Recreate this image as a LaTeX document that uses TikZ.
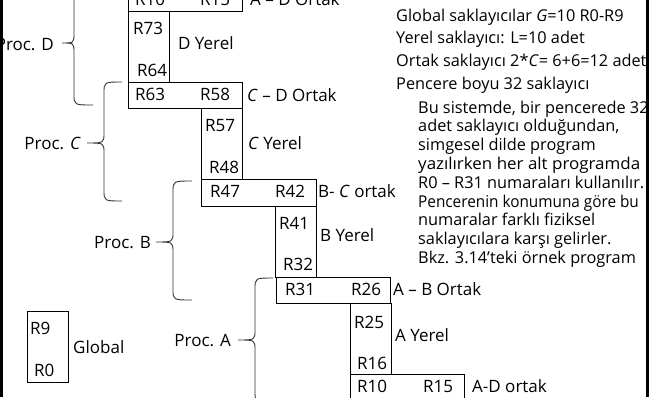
\documentclass[tikz,border=0pt]{standalone}
\usepackage{fontspec}
\usepackage{graphicx}
\setmainfont{Open Sans}
\newcommand\bracepath[6]{\draw[brace] (#1,#4) .. controls (#2,#4) .. (#2,#4+11) -- (#2,#5-10) .. controls (#2,#5) .. (#3,#5) .. controls (#2,#5) .. (#2,#5+10) -- (#2,#6-11) .. controls (#2,#6) .. (#1,#6);}
\begin{document}
\begin{tikzpicture}[x=1pt,y=-1pt, font=\fontsize{17}{19}\selectfont,
 box/.style={draw=black, line width=0.8pt},
 brace/.style={draw=black!80, line width=0.9pt},
 lbl/.style={inner sep=0pt, anchor=base west},
 ctr/.style={inner sep=0pt, anchor=base},
 lft/.style={inner sep=0pt, anchor=base east},
 note/.style={lbl, font=\fontsize{16.3}{19}\selectfont}]
\useasboundingbox (0,0) rectangle (650,397);
\clip (0,0) rectangle (650,397);
% boxes
\draw[box] (128,-14) rectangle (242,11.5);
\draw[box] (128,11.5) rectangle (169,82);
\draw[box] (128,82) rectangle (242,108);
\draw[box] (201,108) rectangle (242,179);
\draw[box] (201,179) rectangle (316,206);
\draw[box] (275,206) rectangle (316,277);
\draw[box] (276,277) rectangle (390,303);
\draw[box] (350,303) rectangle (391,374);
\draw[box] (350,374) rectangle (464,405);
\draw[box] (27,311) rectangle (68,382);
% register labels
\node[ctr] (r10a) at (150,5) {R10};
\node[ctr] (r15a) at (215,5) {R15};
\node[lbl] (adoa) at (250,5) {A – D Ortak};
\node[lbl] (r73) at (133,34) {R73};
\node[lbl] (r64) at (137,76) {R64};
\node[lbl] (dy) at (178,49) {D Yerel};
\node[ctr] (r63) at (150,100) {R63};
\node[ctr] (r58) at (215,100) {R58};
\node[lbl] (cdo) at (247,101) {\textit{C} – D Ortak};
\node[lbl] (r57) at (205,131) {R57};
\node[lbl] (r48) at (209,173) {R48};
\node[lbl] (cy) at (248,149) {\textit{C} Yerel};
\node[ctr] (r47) at (225,197) {R47};
\node[ctr] (r42) at (290,197) {R42};
\node[lbl] (bco) at (318,197) {B- \textit{C} ortak};
\node[lbl] (r41) at (279,229) {R41};
\node[lbl] (r32) at (283,270) {R32};
\node[lbl] (by) at (320,241) {B Yerel};
\node[ctr] (r31) at (300,295) {R31};
\node[ctr] (r26) at (366,295) {R26};
\node[lbl] (abo) at (393,295) {A – B Ortak};
\node[lbl] (r25) at (354,328) {R25};
\node[lbl] (r16) at (357,369) {R16};
\node[lbl] (ay) at (395,341) {A Yerel};
\node[ctr] (r10b) at (372,392) {R10};
\node[ctr] (r15b) at (438,392) {R15};
\node[lbl] (ado) at (472,392) {A-D ortak};
\node[lbl] (r9) at (30,334) {R9};
\node[lbl] (r0) at (34,376) {R0};
\node[lbl] (gl) at (73,353) {Global};
% procedures
\node[lft] (pd) at (54,50) {Proc. D};
\node[lft] (pc) at (81,149) {Proc. \textit{C}};
\node[lft] (pb) at (151,248) {Proc. B};
\node[lft] (pa) at (231,346) {Proc. A};
\bracepath{93}{74}{62}{-19}{43}{105}
\bracepath{122}{104}{87}{82}{143}{201}
\bracepath{192}{173}{156}{181}{242}{300}
\bracepath{273}{255}{238}{278}{340}{402}
% right text
\node[note] (t1) at (396,21) {Global saklayıcılar \textit{G}=10 R0-R9};
\node[note] (t2) at (396,43) {Yerel saklayıcı: L=10 adet};
\node[note] (t3) at (396,66) {Ortak saklayıcı 2*\textit{C}= 6+6=12 adet};
\node[note] (t4) at (396,89) {Pencere boyu 32 saklayıcı};
\node[note] (p0) at (418,113) {Bu sistemde, bir pencerede 32};
\node[note] (p1) at (418,131.8) {adet saklayıcı olduğundan,};
\node[note] (p2) at (418,150.6) {simgesel dilde program};
\node[note] (p3) at (418,169.4) {\scalebox{1.04}[1]{yazılırken her alt programda}};
\node[note] (p4) at (418,188.2) {R0 – R31 numaraları kullanılır.};
\node[note] (p5) at (418,207) {\scalebox{0.94}[1]{Pencerenin konumuna göre bu}};
\node[note] (p6) at (418,225.8) {numaralar farklı fiziksel};
\node[note] (p7) at (418,244.6) {saklayıcılara karşı gelirler.};
\node[note] (p8) at (418,263.4) {Bkz. 3.14'teki örnek program};
% side bars
\fill[black] (0,0) rectangle (2.7,397);
\fill[black] (645.5,0) rectangle (649,397);
\end{tikzpicture}
\end{document}
